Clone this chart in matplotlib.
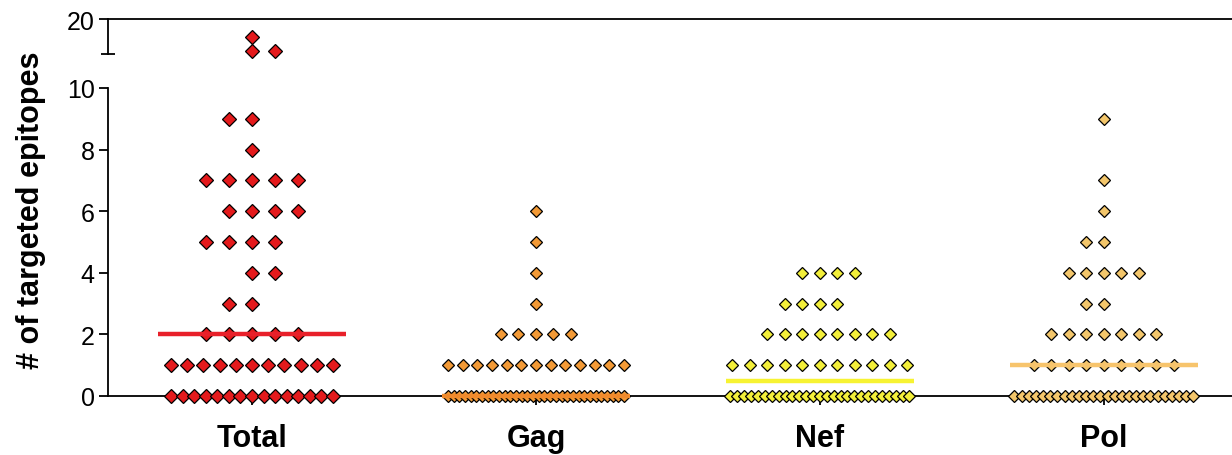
import numpy as np
import matplotlib.pyplot as plt

plt.rcParams['font.family'] = ['Liberation Sans', 'DejaVu Sans']

categories = ['Total', 'Gag', 'Nef', 'Pol']

# epitope count -> number of subjects with that count
total_values = [0, 1, 2, 3, 4, 5, 6, 7, 8, 9, 11, 15]
total_counts = [15, 11, 5, 2, 2, 4, 4, 5, 1, 2, 2, 1]
gag_values = [0, 1, 2, 3, 4, 5, 6]
gag_counts = [32, 13, 5, 1, 1, 1, 1]
nef_values = [0, 1, 2, 3, 4]
nef_counts = [27, 11, 8, 4, 4]
pol_values = [0, 1, 2, 3, 4, 5, 6, 7, 9]
pol_counts = [26, 9, 7, 2, 5, 2, 1, 1, 1]

face_colors = ['#E41A1C', '#F39A36', '#F3EF3A', '#F3C66B']
line_colors = ['#E8202A', '#F08A2C', '#F7F332', '#F7C46C']
marker_sizes = [7.4, 6.0, 6.0, 6.0]
steps = [0.081, 0.0616, 0.0616, 0.0616]
half_widths = [0.285, 0.31, 0.315, 0.315]

groups = [(total_values, total_counts), (gag_values, gag_counts),
          (nef_values, nef_counts), (pol_values, pol_counts)]


def swarm(center, values, counts, step, half_width):
    """Prism-like column scatter: start at the centre and alternate sides."""
    xs, ys = [], []
    for k, (v, n) in enumerate(zip(values, counts)):
        if (n - 1) * step > 2 * half_width:
            off = np.linspace(-half_width, half_width, n)
        else:
            side = -1 if k % 2 else 1
            slots = [0]
            j = 1
            while len(slots) < n:
                slots.append(side * j)
                if len(slots) < n:
                    slots.append(-side * j)
                j += 1
            off = np.array(slots) * step
        xs.extend(center + off)
        ys.extend([v] * n)
    return np.array(xs), np.array(ys)


W, H = 1232, 456
fig = plt.figure(figsize=(W / 100, H / 100), dpi=100)
left = 108 / W
ax = fig.add_axes([left, 59 / H, 1 - left, 308 / H])
ax_top = fig.add_axes([left, 1 - 55 / H, 1 - left, 35 / H])

xlim = (-0.507, 3.451)
lw = 1.3

for a in (ax, ax_top):
    a.set_xlim(*xlim)
    a.patch.set_alpha(0)
    for s in a.spines.values():
        s.set_linewidth(lw)
    a.spines['right'].set_visible(False)

ax.spines['top'].set_visible(False)
ax_top.spines['bottom'].set_visible(False)

ax.set_ylim(0, 10)
ax_top.set_ylim(10, 20)

for i, (vals, cnts) in enumerate(groups):
    x, y = swarm(i, vals, cnts, steps[i], half_widths[i])
    lo = y <= 10
    kw = dict(marker='D', linestyle='none', ms=marker_sizes[i],
              mfc=face_colors[i], mec='black', mew=0.9, clip_on=False, zorder=3)
    ax.plot(x[lo], y[lo], **kw)
    if (~lo).any():
        ax_top.plot(x[~lo], y[~lo], **kw)
    med = np.median(y)
    ax.plot([i - 0.33, i + 0.33], [med, med], color=line_colors[i], lw=3.2,
            solid_capstyle='butt', clip_on=False, zorder=4)

# y ticks
ax.set_yticks([0, 2, 4, 6, 8, 10])
ax.set_yticks([10], minor=True)
ax.tick_params(axis='y', which='major', direction='out', length=6.5, width=lw,
               labelsize=18, pad=3)
ax.tick_params(axis='y', which='minor', direction='in', length=5, width=lw)

ax_top.set_yticks([20])
ax_top.set_yticks([10], minor=True)
ax_top.tick_params(axis='y', which='major', direction='out', length=6.5, width=lw,
                   labelsize=18, pad=3)
ax_top.tick_params(axis='y', which='minor', direction='inout', length=10, width=lw)
ax_top.set_xticks([])

# x ticks
ax.set_xticks(range(len(categories)))
ax.set_xticklabels(categories, fontsize=22, fontweight='bold')
ax.tick_params(axis='x', direction='out', length=6.5, width=lw, pad=13)

fig.text(31 / W, 1 - 210 / H, '# of targeted epitopes', rotation=90,
         fontsize=22, fontweight='bold', ha='center', va='center')

fig.savefig('out.png', dpi=100)
